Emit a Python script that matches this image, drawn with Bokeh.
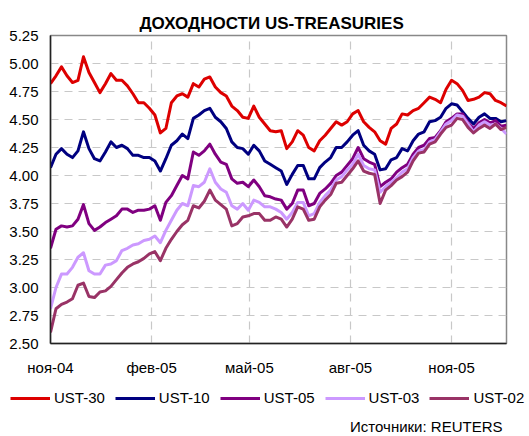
import pandas as pd
from bokeh.plotting import figure
from bokeh.layouts import column
from bokeh.models import Range1d, FixedTicker, PrintfTickFormatter, Legend, LegendItem, Label
from bokeh.embed import file_html
from bokeh.resources import INLINE

start_date = "2004-11-01"
step = "5D"

ust30 = [4.82, 4.89, 4.97, 4.89, 4.83, 4.85, 5.06, 4.92, 4.83, 4.74,
         4.82, 4.91, 4.85, 4.85, 4.80, 4.73, 4.65, 4.65, 4.60, 4.54,
         4.38, 4.42, 4.65, 4.71, 4.73, 4.70, 4.82, 4.79, 4.86, 4.88,
         4.79, 4.74, 4.71, 4.62, 4.58, 4.52, 4.51, 4.62, 4.52, 4.46,
         4.40, 4.39, 4.40, 4.24, 4.30, 4.40, 4.36, 4.25, 4.22, 4.31,
         4.36, 4.42, 4.48, 4.45, 4.48, 4.55, 4.58, 4.48, 4.43, 4.39,
         4.31, 4.28, 4.42, 4.46, 4.55, 4.54, 4.58, 4.60, 4.65, 4.70,
         4.68, 4.65, 4.77, 4.85, 4.82, 4.76, 4.67, 4.68, 4.70, 4.74,
         4.73, 4.67, 4.65, 4.62]

ust10 = [4.07, 4.19, 4.24, 4.19, 4.16, 4.22, 4.39, 4.24, 4.15, 4.13,
         4.21, 4.30, 4.25, 4.27, 4.24, 4.18, 4.18, 4.16, 4.16, 4.13,
         4.04, 4.15, 4.27, 4.31, 4.37, 4.33, 4.51, 4.54, 4.58, 4.60,
         4.52, 4.48, 4.42, 4.30, 4.25, 4.24, 4.19, 4.27, 4.22, 4.13,
         4.10, 4.07, 4.04, 3.92, 4.01, 4.09, 4.09, 3.97, 3.97, 4.07,
         4.12, 4.16, 4.25, 4.25, 4.30, 4.36, 4.40, 4.27, 4.22, 4.19,
         4.05, 4.06, 4.14, 4.16, 4.24, 4.22, 4.31, 4.37, 4.39, 4.48,
         4.49, 4.52, 4.60, 4.64, 4.63, 4.57, 4.51, 4.46, 4.52, 4.55,
         4.51, 4.51, 4.48, 4.49]

ust05 = [3.35, 3.52, 3.55, 3.54, 3.55, 3.61, 3.74, 3.57, 3.51, 3.54,
         3.58, 3.61, 3.64, 3.70, 3.70, 3.67, 3.69, 3.69, 3.70, 3.73,
         3.60, 3.76, 3.82, 3.91, 4.00, 3.97, 4.21, 4.18, 4.22, 4.28,
         4.19, 4.12, 4.10, 3.97, 3.93, 3.94, 3.90, 3.96, 3.90, 3.82,
         3.81, 3.79, 3.78, 3.70, 3.75, 3.87, 3.87, 3.73, 3.75, 3.84,
         3.88, 3.93, 4.00, 4.03, 4.09, 4.15, 4.25, 4.15, 4.12, 4.10,
         3.90, 3.94, 3.97, 4.03, 4.07, 4.10, 4.19, 4.25, 4.27, 4.33,
         4.34, 4.40, 4.48, 4.51, 4.55, 4.55, 4.47, 4.42, 4.47, 4.50,
         4.47, 4.49, 4.44, 4.45]

ust03 = [2.81, 3.00, 3.12, 3.12, 3.18, 3.27, 3.31, 3.15, 3.12, 3.12,
         3.20, 3.21, 3.24, 3.33, 3.35, 3.38, 3.39, 3.42, 3.43, 3.46,
         3.40, 3.51, 3.60, 3.69, 3.75, 3.73, 3.91, 3.90, 3.94, 4.06,
         3.94, 3.88, 3.85, 3.73, 3.70, 3.75, 3.69, 3.78, 3.76, 3.72,
         3.72, 3.70, 3.67, 3.61, 3.67, 3.76, 3.76, 3.64, 3.66, 3.76,
         3.82, 3.87, 3.96, 3.99, 4.05, 4.10, 4.19, 4.09, 4.06, 4.05,
         3.85, 3.90, 3.94, 3.98, 4.03, 4.06, 4.16, 4.22, 4.23, 4.30,
         4.32, 4.39, 4.46, 4.49, 4.54, 4.53, 4.46, 4.39, 4.45, 4.48,
         4.45, 4.46, 4.42, 4.37]

ust02 = [2.60, 2.81, 2.85, 2.87, 2.90, 3.02, 3.04, 2.92, 2.91, 2.96,
         2.97, 3.01, 3.07, 3.13, 3.18, 3.21, 3.23, 3.26, 3.30, 3.32,
         3.24, 3.35, 3.43, 3.50, 3.56, 3.60, 3.73, 3.71, 3.77, 3.87,
         3.78, 3.74, 3.70, 3.55, 3.57, 3.63, 3.64, 3.66, 3.66, 3.60,
         3.60, 3.63, 3.61, 3.54, 3.61, 3.72, 3.70, 3.60, 3.61, 3.72,
         3.78, 3.83, 3.93, 3.94, 4.00, 4.06, 4.13, 4.04, 4.02, 4.01,
         3.75, 3.87, 3.91, 3.96, 3.99, 4.03, 4.13, 4.20, 4.21, 4.28,
         4.30, 4.37, 4.43, 4.45, 4.51, 4.50, 4.43, 4.38, 4.42, 4.45,
         4.42, 4.46, 4.41, 4.43]

series_names = ["UST-30", "UST-10", "UST-05", "UST-03", "UST-02"]
series_values = [ust30, ust10, ust05, ust03, ust02]
series_colors = ["#dd0000", "#000080", "#800080", "#cc99ff", "#993366"]

x_tick_dates = ["2004-11-01", "2005-02-01", "2005-05-01", "2005-08-01", "2005-11-01"]
x_tick_labels = ["ноя-04", "фев-05", "май-05", "авг-05", "ноя-05"]
y_ticks = [2.50, 2.75, 3.00, 3.25, 3.50, 3.75, 4.00, 4.25, 4.50, 4.75, 5.00, 5.25]

title_text = "ДОХОДНОСТИ US-TREASURIES"
source_text = "Источники: REUTERS"

# ---- main chart ----
dates = pd.date_range(start_date, periods=len(ust30), freq=step)
FONT = "Liberation Sans"
W = 529

p = figure(width=W, height=380, x_axis_type="datetime",
           x_range=Range1d(dates[0].to_pydatetime(), dates[-1].to_pydatetime()),
           y_range=Range1d(2.5, 5.25),
           output_backend="svg", toolbar_location=None,
           min_border_left=50, min_border_right=23, min_border_top=35, min_border_bottom=37,
           background_fill_color="white", border_fill_color="white")
p.frame_align = False

p.title.text = title_text
p.title.align = "left"
p.title.offset = 89
p.title.text_font = FONT
p.title.text_font_size = "17px"
p.title.text_font_style = "bold"
p.title.text_color = "black"
p.title.standoff = 6

p.outline_line_color = "#888888"
p.outline_line_width = 1.5

tick_ms = [int(pd.Timestamp(d).value // 10**6) for d in x_tick_dates]
xticker = FixedTicker(ticks=tick_ms)
yticker = FixedTicker(ticks=y_ticks)
p.xaxis.ticker = xticker
p.xgrid.ticker = xticker
p.yaxis.ticker = yticker
p.ygrid.ticker = yticker
p.xaxis.major_label_overrides = {t: lab for t, lab in zip(tick_ms, x_tick_labels)}
p.yaxis.formatter = PrintfTickFormatter(format="%.2f")

for ax in (p.xaxis, p.yaxis):
    ax.axis_line_color = "#222222"
    ax.axis_line_width = 1.5
    ax.major_tick_line_color = None
    ax.minor_tick_line_color = None
    ax.major_tick_in = 0
    ax.major_tick_out = 0
    ax.major_label_text_font = FONT
    ax.major_label_text_font_size = "15px"
    ax.major_label_text_color = "black"
p.yaxis.major_label_standoff = 12
p.xaxis.major_label_standoff = 15

for g in (p.xgrid, p.ygrid):
    g.grid_line_color = "#c8c8c8"
    g.grid_line_width = 1.2
    g.grid_line_dash = "8 6"

for vals, color in zip(series_values, series_colors):
    p.line(dates, vals, line_color=color, line_width=3, line_join="round")

# ---- legend + source strip (same series, drawn out of view; only legend shows) ----
q = figure(width=W, height=56, x_axis_location=None, y_axis_location=None,
           x_range=Range1d(0, 1), y_range=Range1d(0, 1),
           output_backend="svg", toolbar_location=None,
           min_border=0, min_border_left=0, min_border_right=0,
           min_border_top=0, min_border_bottom=0,
           background_fill_color="white", border_fill_color="white")
q.frame_align = False
q.outline_line_color = None
q.grid.visible = False

items = []
for name, vals, color in zip(series_names, series_values, series_colors):
    r = q.line(dates, vals, line_color=color, line_width=3)
    items.append(LegendItem(label=name, renderers=[r]))

legend = Legend(items=items, orientation="horizontal", location=(10, 30),
                glyph_width=40, glyph_height=16, label_standoff=4, spacing=10,
                padding=0, margin=0, border_line_color=None, background_fill_alpha=0,
                label_text_font=FONT, label_text_font_size="15px", label_text_color="black")
q.add_layout(legend, "center")

src = Label(x=502, y=10, x_units="screen", y_units="screen", text=source_text,
            text_align="right", text_baseline="alphabetic", text_font=FONT,
            text_font_size="15px", text_color="black")
q.add_layout(src)

layout = column(p, q, spacing=0)
open("out.html", "w").write(file_html(layout, INLINE))
